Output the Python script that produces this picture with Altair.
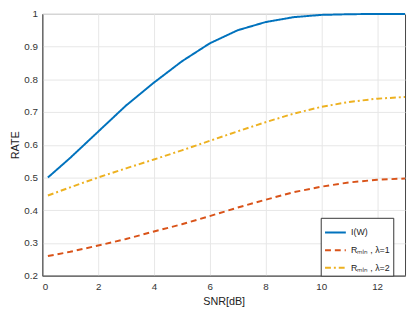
import altair as alt
import pandas as pd

snr = [0.2, 1, 2, 3, 4, 5, 6, 7, 8, 9, 10, 11, 12, 13]
rate_iw = [0.50, 0.56, 0.64, 0.72, 0.79, 0.855, 0.91, 0.95, 0.975, 0.99, 0.997, 0.999, 1.0, 1.0]
rate_l1 = [0.26, 0.273, 0.292, 0.312, 0.335, 0.357, 0.382, 0.408, 0.432, 0.455, 0.472, 0.485, 0.493, 0.497]
rate_l2 = [0.445, 0.47, 0.50, 0.528, 0.555, 0.583, 0.612, 0.641, 0.669, 0.695, 0.716, 0.731, 0.741, 0.746]
series = ["I(W)", "Rₘᵢₙ , λ=1", "Rₘᵢₙ , λ=2"]
colors = ["#0072BD", "#D95319", "#EDB120"]
dashes = [[1, 0], [6, 4], [6, 3, 2, 3]]

rows = []
for name, vals in zip(series, [rate_iw, rate_l1, rate_l2]):
    for x, y in zip(snr, vals):
        rows.append({"snr": x, "rate": y, "series": name})
df = pd.DataFrame(rows)

chart = alt.Chart(df).mark_line(strokeWidth=2).encode(
    x=alt.X("snr:Q", title="SNR[dB]",
            scale=alt.Scale(domain=[0, 13], nice=False),
            axis=alt.Axis(values=[0, 2, 4, 6, 8, 10, 12], ticks=False, labelPadding=6)),
    y=alt.Y("rate:Q", title="RATE",
            scale=alt.Scale(domain=[0.2, 1], nice=False),
            axis=alt.Axis(values=[0.2, 0.3, 0.4, 0.5, 0.6, 0.7, 0.8, 0.9, 1],
                          format="~g", ticks=False, labelPadding=5, titlePadding=3)),
    color=alt.Color("series:N", sort=series,
                    scale=alt.Scale(domain=series, range=colors),
                    legend=alt.Legend(title=None, orient="none", legendX=284, legendY=208,
                                      symbolType="stroke", symbolSize=450, symbolStrokeWidth=2,
                                      fillColor="white", strokeColor="#333333",
                                      padding=3, rowPadding=1, labelFontSize=9,
                                      labelFont="Liberation Sans", labelColor="#222")),
    strokeDash=alt.StrokeDash("series:N", sort=series,
                              scale=alt.Scale(domain=series, range=dashes),
                              legend=None),
).properties(
    width=370, height=267,
    autosize=alt.AutoSizeParams(type="none"),
    padding={"left": 35, "top": 3, "right": 2, "bottom": 32},
).configure_view(
    stroke="#444444", strokeWidth=1
).configure_axis(
    gridColor="#e6e6e6", domainColor="#444444",
    labelFont="Liberation Sans", titleFont="Liberation Sans",
    labelFontSize=10, titleFontSize=11, titleFontWeight="normal",
    labelColor="#333333", titleColor="#222222",
)

chart.save("out.html", embed_options={"renderer": "svg", "actions": False})
